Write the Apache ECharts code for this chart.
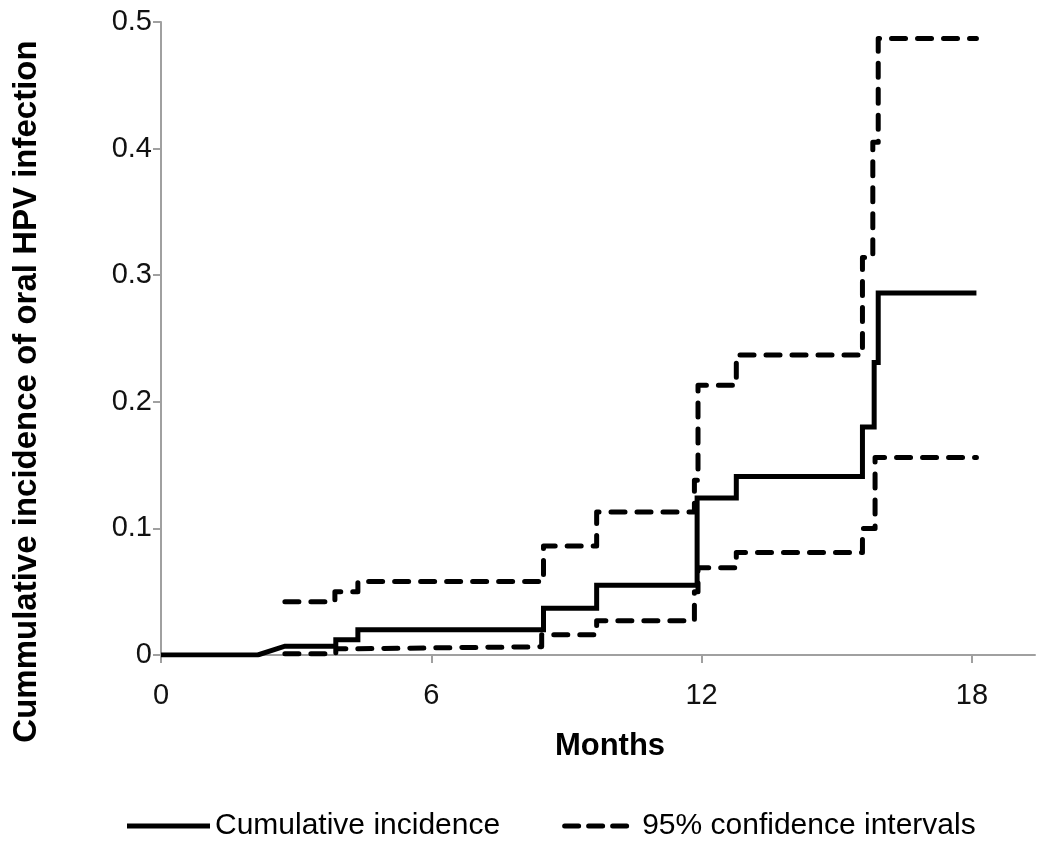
<!DOCTYPE html>
<html>
<head>
<meta charset="utf-8">
<script src="https://cdn.jsdelivr.net/npm/echarts@6/dist/echarts.min.js"></script>
<style>html,body{margin:0;padding:0;background:#fff;}#c{width:1052px;height:841px;}</style>
</head>
<body>
<div id="c"></div>
<script>
// Data (months, cumulative incidence)
var xTicks = [0, 6, 12, 18];
var cumulative = [
  [0,0],[2.15,0],[2.75,0.007],[3.88,0.007],[3.88,0.012],[4.37,0.012],[4.37,0.020],
  [8.49,0.020],[8.49,0.037],[9.67,0.037],[9.67,0.055],[11.9,0.055],[11.9,0.124],
  [12.77,0.124],[12.77,0.141],[15.57,0.141],[15.57,0.180],[15.83,0.180],[15.83,0.231],
  [15.92,0.231],[15.92,0.286],[18.1,0.286]
];
var upperCI = [
  [2.75,0.042],[3.86,0.042],[3.86,0.050],[4.37,0.050],[4.37,0.058],[8.49,0.058],
  [8.49,0.086],[9.67,0.086],[9.67,0.113],[11.84,0.113],[11.84,0.138],[11.92,0.138],
  [11.92,0.213],[12.77,0.213],[12.77,0.237],[15.57,0.237],[15.57,0.314],[15.8,0.314],
  [15.8,0.405],[15.92,0.405],[15.92,0.487],[18.1,0.487]
];
var lowerCI = [
  [2.75,0.001],[3.88,0.001],[3.88,0.005],[4.37,0.005],[4.37,0.0065],[8.45,0.0065],
  [8.45,0.016],[9.67,0.016],[9.67,0.027],[11.84,0.027],[11.84,0.05],[11.92,0.05],
  [11.92,0.069],[12.77,0.069],[12.77,0.081],[15.57,0.081],[15.57,0.100],[15.85,0.100],
  [15.85,0.156],[18.1,0.156]
];
var seriesNames = ['Cumulative incidence', '95% confidence intervals'];

var chart = echarts.init(document.getElementById('c'), null, {renderer: 'canvas'});
var axisColor = '#a0a0a0';
var font = 'Liberation Sans, Arial, sans-serif';
var dashStyle = {color: '#000', width: 5, type: [14, 12], cap: 'round', join: 'round'};
chart.setOption({
  animation: false,
  backgroundColor: '#fff',
  grid: {left: 161, right: 17, top: 22, bottom: 186, containLabel: false},
  legend: {
    data: [
      {name: seriesNames[0], icon: 'path://M0,0H83V5H0Z'},
      {name: seriesNames[1], icon: 'path://M2.5,0H16.5A2.5,2.5 0 0 1 16.5,5H2.5A2.5,2.5 0 0 1 2.5,0Z M26.5,0H40.5A2.5,2.5 0 0 1 40.5,5H26.5A2.5,2.5 0 0 1 26.5,0Z M50.5,0H64.5A2.5,2.5 0 0 1 64.5,5H50.5A2.5,2.5 0 0 1 50.5,0Z'}
    ],
    left: 122, top: 806,
    itemWidth: 83, itemHeight: 5, itemGap: 62,
    itemStyle: {color: '#000', borderWidth: 0},
    textStyle: {fontFamily: font, fontSize: 30, color: '#000'}
  },
  xAxis: {
    type: 'value', min: 0, max: 19.4,
    name: 'Months', nameLocation: 'middle', nameGap: 76,
    nameTextStyle: {fontFamily: font, fontSize: 31, fontWeight: 'bold', color: '#000', padding: [0,0,0,24]},
    axisLine: {lineStyle: {color: axisColor, width: 2}},
    axisTick: {show: true, length: 8, customValues: xTicks, lineStyle: {color: axisColor, width: 2}},
    axisLabel: {customValues: xTicks, margin: 26, fontFamily: font, fontSize: 29, color: '#111'},
    splitLine: {show: false}
  },
  yAxis: {
    type: 'value', min: 0, max: 0.5, interval: 0.1,
    name: 'Cummulative incidence of oral HPV infection', nameLocation: 'middle', nameGap: 118,
    nameRotate: 90,
    nameTextStyle: {fontFamily: font, fontSize: 33, fontWeight: 'bold', color: '#000', padding: [0,106,0,0]},
    axisLine: {show: true, lineStyle: {color: axisColor, width: 2}},
    axisTick: {show: true, length: 8, lineStyle: {color: axisColor, width: 2}},
    axisLabel: {margin: 9, fontFamily: font, fontSize: 29, color: '#111'},
    splitLine: {show: false}
  },
  series: [
    {name: seriesNames[0], type: 'line', data: cumulative, symbol: 'none', z: 3,
     lineStyle: {color: '#000', width: 5, join: 'miter'}, itemStyle: {color: '#000'}},
    {name: seriesNames[1], type: 'line', data: upperCI, symbol: 'none', z: 2,
     lineStyle: dashStyle, itemStyle: {color: '#000'}},
    {name: seriesNames[1], type: 'line', data: lowerCI, symbol: 'none', z: 2,
     lineStyle: dashStyle, itemStyle: {color: '#000'}}
  ]
});
</script>
</body>
</html>
